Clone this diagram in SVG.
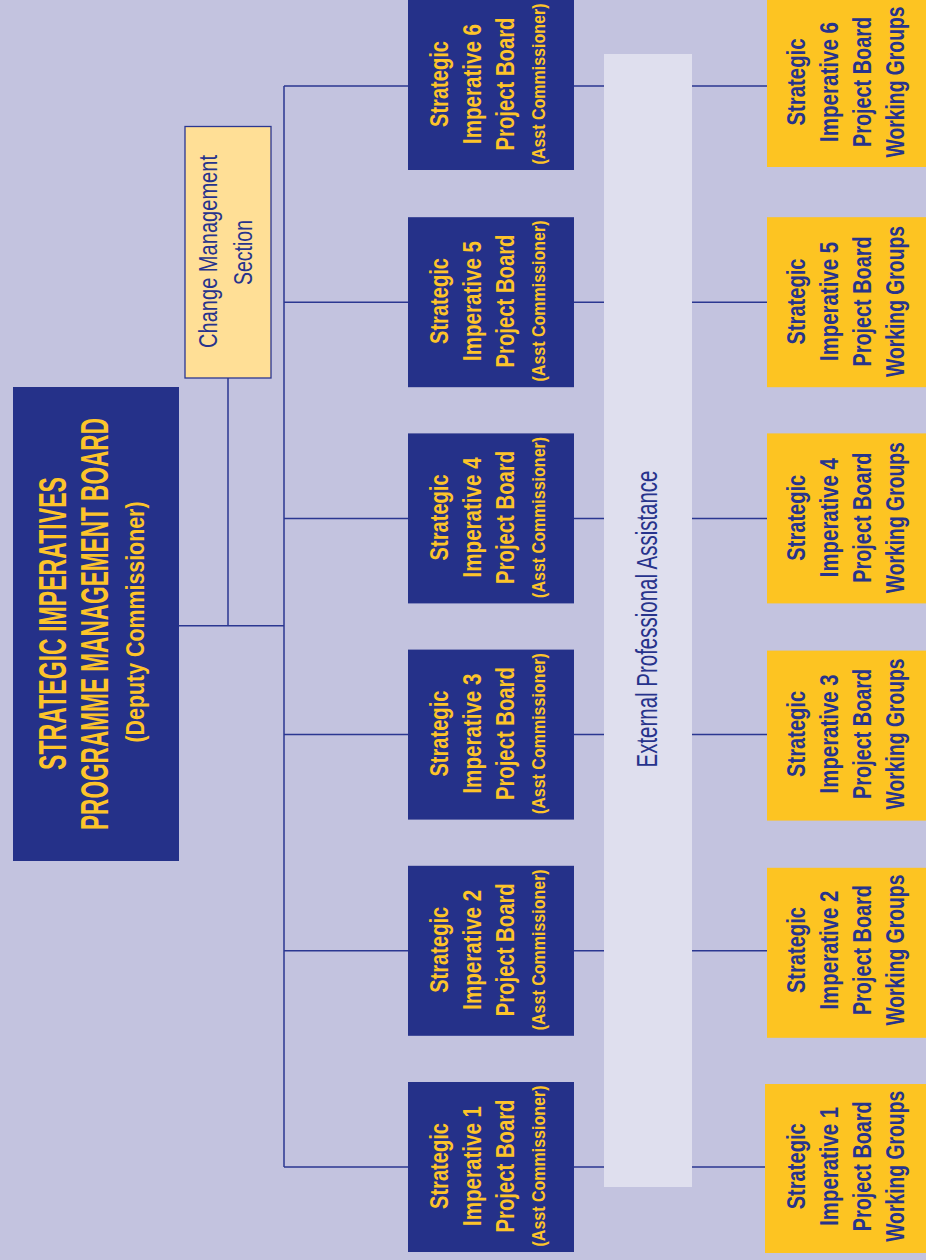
<svg xmlns="http://www.w3.org/2000/svg" width="926" height="1260" viewBox="0 0 926 1260">
<style>
.bg{fill:#c3c3df}
.blue{fill:#253189}
.yel{fill:#fdc422}
.chg{fill:#ffdf96;stroke:#2b3791;stroke-width:1.3}
.ext{fill:#dfdfee}
.ln{stroke:#2b3791;stroke-width:1.5;fill:none}
text{font-family:"Liberation Sans Narrow","Liberation Sans",Arial,sans-serif;text-anchor:middle}
.bt{fill:#fdc42a;font-weight:bold;font-size:25px}
.bs{fill:#fdc42a;font-weight:bold;font-size:19px}
.yt{fill:#27338c;font-weight:bold;font-size:25px}
.mt{fill:#fdc42a;font-weight:bold;font-size:38px}
.ms{fill:#fdc42a;font-weight:bold;font-size:26px}
.lt{fill:#27338c;font-size:26px}
.et{fill:#27338c;font-size:29px}
</style>
<rect class="bg" x="0" y="0" width="926" height="1260"/>
<rect class="ext" x="604" y="54" width="88" height="1133"/>
<g id="connectors">
<path class="ln" d="M179 625.7H284M228 378V625.7M284 86V1167"/>
<path class="ln" d="M284 86H408M574 86H604M692 86H767"/>
<path class="ln" d="M284 302.2H408M574 302.2H604M692 302.2H767"/>
<path class="ln" d="M284 518.4H408M574 518.4H604M692 518.4H767"/>
<path class="ln" d="M284 734.6H408M574 734.6H604M692 734.6H767"/>
<path class="ln" d="M284 950.8H408M574 950.8H604M692 950.8H767"/>
<path class="ln" d="M284 1167H408M574 1167H604M692 1167H767"/>
</g>
<g id="main">
<rect class="blue" x="13" y="387" width="166" height="474"/>
<text class="mt" transform="translate(66,623.5) rotate(-90)" textLength="293" lengthAdjust="spacingAndGlyphs">STRATEGIC IMPERATIVES</text>
<text class="mt" transform="translate(108,624) rotate(-90)" textLength="412" lengthAdjust="spacingAndGlyphs">PROGRAMME MANAGEMENT BOARD</text>
<text class="ms" transform="translate(144,622) rotate(-90)" textLength="241" lengthAdjust="spacingAndGlyphs">(Deputy Commissioner)</text>
</g>
<g id="change">
<rect class="chg" x="185" y="126.5" width="86" height="251.5"/>
<text class="lt" transform="translate(217,251.5) rotate(-90)" textLength="193" lengthAdjust="spacingAndGlyphs">Change Management</text>
<text class="lt" transform="translate(251.5,252.5) rotate(-90)" textLength="65" lengthAdjust="spacingAndGlyphs">Section</text>
</g>
<g id="external">
<text class="et" transform="translate(656.5,619) rotate(-90)" textLength="297" lengthAdjust="spacingAndGlyphs">External Professional Assistance</text>
</g>
<g id="board6">
<rect class="blue" x="408" y="0" width="166" height="170"/>
<text class="bt" transform="translate(448,84) rotate(-90)" textLength="86" lengthAdjust="spacingAndGlyphs">Strategic</text>
<text class="bt" transform="translate(481,84) rotate(-90)" textLength="120" lengthAdjust="spacingAndGlyphs">Imperative 6</text>
<text class="bt" transform="translate(514,84) rotate(-90)" textLength="133" lengthAdjust="spacingAndGlyphs">Project Board</text>
<text class="bs" transform="translate(545,84) rotate(-90)" textLength="161" lengthAdjust="spacingAndGlyphs">(Asst Commissioner)</text>
</g>
<g id="board5">
<rect class="blue" x="408" y="217.2" width="166" height="170"/>
<text class="bt" transform="translate(448,301) rotate(-90)" textLength="86" lengthAdjust="spacingAndGlyphs">Strategic</text>
<text class="bt" transform="translate(481,301) rotate(-90)" textLength="120" lengthAdjust="spacingAndGlyphs">Imperative 5</text>
<text class="bt" transform="translate(514,301) rotate(-90)" textLength="133" lengthAdjust="spacingAndGlyphs">Project Board</text>
<text class="bs" transform="translate(545,301) rotate(-90)" textLength="161" lengthAdjust="spacingAndGlyphs">(Asst Commissioner)</text>
</g>
<g id="board4">
<rect class="blue" x="408" y="433.4" width="166" height="170"/>
<text class="bt" transform="translate(448,517.4) rotate(-90)" textLength="86" lengthAdjust="spacingAndGlyphs">Strategic</text>
<text class="bt" transform="translate(481,517.4) rotate(-90)" textLength="120" lengthAdjust="spacingAndGlyphs">Imperative 4</text>
<text class="bt" transform="translate(514,517.4) rotate(-90)" textLength="133" lengthAdjust="spacingAndGlyphs">Project Board</text>
<text class="bs" transform="translate(545,517.4) rotate(-90)" textLength="161" lengthAdjust="spacingAndGlyphs">(Asst Commissioner)</text>
</g>
<g id="board3">
<rect class="blue" x="408" y="649.6" width="166" height="170"/>
<text class="bt" transform="translate(448,733.6) rotate(-90)" textLength="86" lengthAdjust="spacingAndGlyphs">Strategic</text>
<text class="bt" transform="translate(481,733.6) rotate(-90)" textLength="120" lengthAdjust="spacingAndGlyphs">Imperative 3</text>
<text class="bt" transform="translate(514,733.6) rotate(-90)" textLength="133" lengthAdjust="spacingAndGlyphs">Project Board</text>
<text class="bs" transform="translate(545,733.6) rotate(-90)" textLength="161" lengthAdjust="spacingAndGlyphs">(Asst Commissioner)</text>
</g>
<g id="board2">
<rect class="blue" x="408" y="865.8" width="166" height="170"/>
<text class="bt" transform="translate(448,949.8) rotate(-90)" textLength="86" lengthAdjust="spacingAndGlyphs">Strategic</text>
<text class="bt" transform="translate(481,949.8) rotate(-90)" textLength="120" lengthAdjust="spacingAndGlyphs">Imperative 2</text>
<text class="bt" transform="translate(514,949.8) rotate(-90)" textLength="133" lengthAdjust="spacingAndGlyphs">Project Board</text>
<text class="bs" transform="translate(545,949.8) rotate(-90)" textLength="161" lengthAdjust="spacingAndGlyphs">(Asst Commissioner)</text>
</g>
<g id="board1">
<rect class="blue" x="408" y="1082" width="166" height="170"/>
<text class="bt" transform="translate(448,1166) rotate(-90)" textLength="86" lengthAdjust="spacingAndGlyphs">Strategic</text>
<text class="bt" transform="translate(481,1166) rotate(-90)" textLength="120" lengthAdjust="spacingAndGlyphs">Imperative 1</text>
<text class="bt" transform="translate(514,1166) rotate(-90)" textLength="133" lengthAdjust="spacingAndGlyphs">Project Board</text>
<text class="bs" transform="translate(545,1166) rotate(-90)" textLength="161" lengthAdjust="spacingAndGlyphs">(Asst Commissioner)</text>
</g>
<g id="wg6">
<rect class="yel" x="767" y="0" width="159" height="167"/>
<text class="yt" transform="translate(805,82) rotate(-90)" textLength="87" lengthAdjust="spacingAndGlyphs">Strategic</text>
<text class="yt" transform="translate(838,82) rotate(-90)" textLength="120" lengthAdjust="spacingAndGlyphs">Imperative 6</text>
<text class="yt" transform="translate(871,82) rotate(-90)" textLength="130" lengthAdjust="spacingAndGlyphs">Project Board</text>
<text class="yt" transform="translate(904,82) rotate(-90)" textLength="151" lengthAdjust="spacingAndGlyphs">Working Groups</text>
</g>
<g id="wg5">
<rect class="yel" x="767" y="217.2" width="159" height="170"/>
<text class="yt" transform="translate(805,301.5) rotate(-90)" textLength="86" lengthAdjust="spacingAndGlyphs">Strategic</text>
<text class="yt" transform="translate(838,301.5) rotate(-90)" textLength="119" lengthAdjust="spacingAndGlyphs">Imperative 5</text>
<text class="yt" transform="translate(871,301.5) rotate(-90)" textLength="130" lengthAdjust="spacingAndGlyphs">Project Board</text>
<text class="yt" transform="translate(904,301.5) rotate(-90)" textLength="151" lengthAdjust="spacingAndGlyphs">Working Groups</text>
</g>
<g id="wg4">
<rect class="yel" x="767" y="433.4" width="159" height="170"/>
<text class="yt" transform="translate(805,517.7) rotate(-90)" textLength="86" lengthAdjust="spacingAndGlyphs">Strategic</text>
<text class="yt" transform="translate(838,517.7) rotate(-90)" textLength="119" lengthAdjust="spacingAndGlyphs">Imperative 4</text>
<text class="yt" transform="translate(871,517.7) rotate(-90)" textLength="130" lengthAdjust="spacingAndGlyphs">Project Board</text>
<text class="yt" transform="translate(904,517.7) rotate(-90)" textLength="151" lengthAdjust="spacingAndGlyphs">Working Groups</text>
</g>
<g id="wg3">
<rect class="yel" x="767" y="650.6" width="159" height="170"/>
<text class="yt" transform="translate(805,733.9) rotate(-90)" textLength="86" lengthAdjust="spacingAndGlyphs">Strategic</text>
<text class="yt" transform="translate(838,733.9) rotate(-90)" textLength="119" lengthAdjust="spacingAndGlyphs">Imperative 3</text>
<text class="yt" transform="translate(871,733.9) rotate(-90)" textLength="130" lengthAdjust="spacingAndGlyphs">Project Board</text>
<text class="yt" transform="translate(904,733.9) rotate(-90)" textLength="151" lengthAdjust="spacingAndGlyphs">Working Groups</text>
</g>
<g id="wg2">
<rect class="yel" x="767" y="867.8" width="159" height="170"/>
<text class="yt" transform="translate(805,950.1) rotate(-90)" textLength="86" lengthAdjust="spacingAndGlyphs">Strategic</text>
<text class="yt" transform="translate(838,950.1) rotate(-90)" textLength="119" lengthAdjust="spacingAndGlyphs">Imperative 2</text>
<text class="yt" transform="translate(871,950.1) rotate(-90)" textLength="130" lengthAdjust="spacingAndGlyphs">Project Board</text>
<text class="yt" transform="translate(904,950.1) rotate(-90)" textLength="151" lengthAdjust="spacingAndGlyphs">Working Groups</text>
</g>
<g id="wg1">
<rect class="yel" x="765" y="1084" width="161" height="169"/>
<text class="yt" transform="translate(805,1166.3) rotate(-90)" textLength="86" lengthAdjust="spacingAndGlyphs">Strategic</text>
<text class="yt" transform="translate(838,1166.3) rotate(-90)" textLength="119" lengthAdjust="spacingAndGlyphs">Imperative 1</text>
<text class="yt" transform="translate(871,1166.3) rotate(-90)" textLength="130" lengthAdjust="spacingAndGlyphs">Project Board</text>
<text class="yt" transform="translate(904,1166.3) rotate(-90)" textLength="151" lengthAdjust="spacingAndGlyphs">Working Groups</text>
</g>
</svg>
